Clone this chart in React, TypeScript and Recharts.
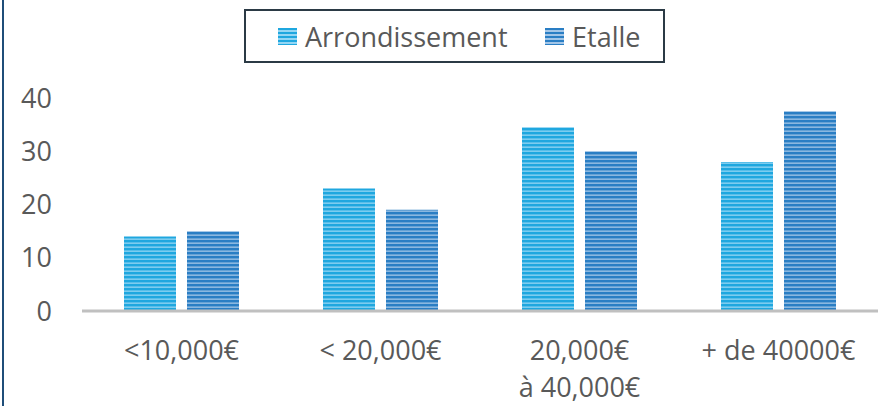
import React from 'react'
import { BarChart, Bar, XAxis, YAxis, Legend } from 'recharts'

const CATEGORIES = ['<10,000€', '< 20,000€', '20,000€\nà 40,000€', '+ de 40000€']
const ARRONDISSEMENT = [14, 23, 34.5, 28]
const ETALLE = [15, 19, 30, 37.5]
const Y_TICKS = [0, 10, 20, 30, 40]

const SERIES = [
  { key: 'arr', name: 'Arrondissement', values: ARRONDISSEMENT, base: '#1fa7df', stripe: '#93d6f4', pattern: 'stripeLight' },
  { key: 'eta', name: 'Etalle', values: ETALLE, base: '#2a7ec4', stripe: '#a2c5e7', pattern: 'stripeDark' },
]

const data = CATEGORIES.map((c, i) => ({
  cat: c,
  arr: ARRONDISSEMENT[i],
  eta: ETALLE[i],
}))

const FONT = '"Open Sans", sans-serif'
const TEXT = '#595959'

// eslint-disable-next-line @typescript-eslint/no-explicit-any
function CatTick({ x, y, payload }: any) {
  const lines = String(payload.value).split('\n')
  return (
    <g>
      {lines.map((l, i) => (
        <text
          key={i}
          x={x}
          y={y + 49 + i * 37}
          textAnchor="middle"
          fill={TEXT}
          fontSize={27}
          fontFamily={FONT}
        >
          {l}
        </text>
      ))}
    </g>
  )
}

function LegendBox() {
  return (
    <div
      style={{
        position: 'absolute',
        left: 244,
        top: 9,
        width: 417,
        height: 50,
        border: '2px solid #2b3a45',
        fontFamily: FONT,
        fontSize: 27,
        color: TEXT,
      }}
    >
      {SERIES.map((s, i) => (
        <div
          key={s.key}
          style={{
            position: 'absolute',
            left: i === 0 ? 32 : 299,
            top: 0,
            height: 50,
            display: 'flex',
            alignItems: 'center',
            whiteSpace: 'nowrap',
          }}
        >
          <span
            style={{
              display: 'inline-block',
              width: 19,
              height: 17,
              marginRight: 8,
              background: `repeating-linear-gradient(to bottom, ${s.base} 0px, ${s.base} 2.5px, ${s.stripe} 2.5px, ${s.stripe} 4px)`,
            }}
          />
          <span>{s.name}</span>
        </div>
      ))}
    </div>
  )
}

export default function App() {
  return (
    <div style={{ position: 'absolute', left: 0, top: 0, width: 881, height: 406, background: '#fff' }}>
      <div style={{ position: 'absolute', left: 2, top: 0, width: 2, height: 406, background: '#1f4e79' }} />
      <BarChart
        width={881}
        height={406}
        data={data}
        margin={{ top: 98, right: 3, bottom: 0, left: 0 }}
        barGap={11}
        barSize={52}
      >
        <defs>
          {SERIES.map(s => (
            <pattern key={s.pattern} id={s.pattern} width={8} height={4} patternUnits="userSpaceOnUse">
              <rect width={8} height={4} fill={s.base} />
              <rect y={2.5} width={8} height={1.3} fill={s.stripe} />
            </pattern>
          ))}
        </defs>
        <XAxis
          dataKey="cat"
          height={95}
          axisLine={{ stroke: '#c0c0c0', strokeWidth: 3 }}
          tickLine={false}
          tickSize={0}
          tickMargin={0}
          interval={0}
          tick={<CatTick />}
        />
        <YAxis
          width={82}
          domain={[0, 40]}
          ticks={Y_TICKS}
          axisLine={false}
          tickLine={false}
          tickSize={0}
          tickMargin={30}
          tick={{ fill: TEXT, fontSize: 27, fontFamily: FONT }}
        />
        <Legend layout="horizontal" verticalAlign="middle" content={() => null} />
        {SERIES.map(s => (
          <Bar
            key={s.key}
            dataKey={s.key}
            name={s.name}
            fill={`url(#${s.pattern})`}
            isAnimationActive={false}
          />
        ))}
      </BarChart>
      <LegendBox />
    </div>
  )
}
